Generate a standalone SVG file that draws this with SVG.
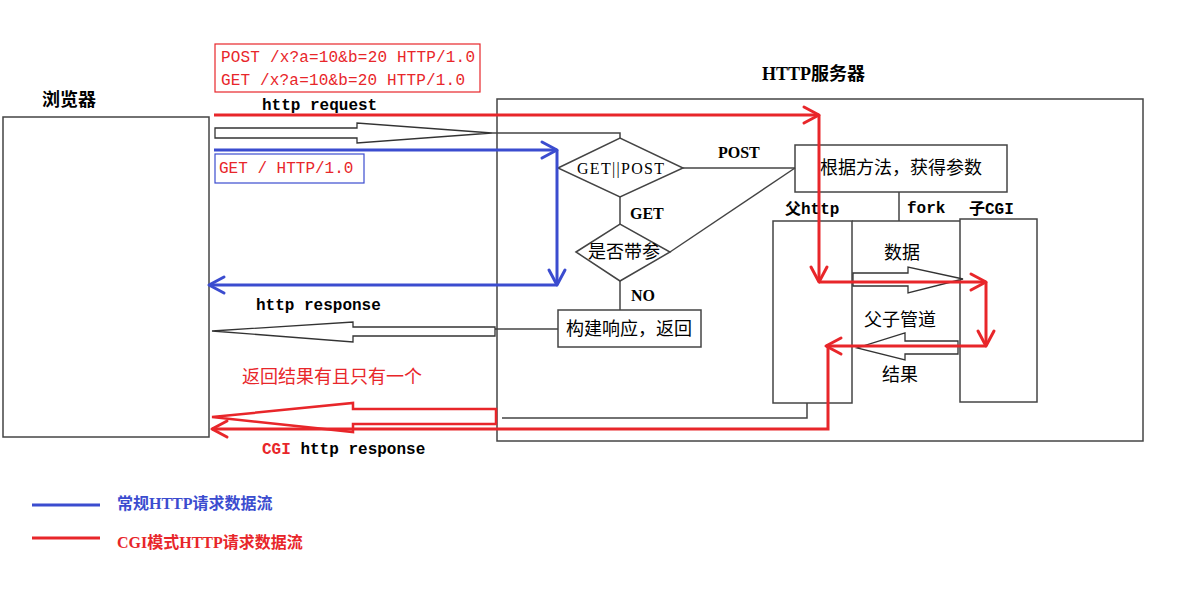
<svg xmlns="http://www.w3.org/2000/svg" width="1183" height="594" viewBox="0 0 1183 594">
<style>
.box{fill:#fff;stroke:#444;stroke-width:1.5}
.ln{fill:none;stroke:#444;stroke-width:1.5}
.hol{fill:#fff;stroke:#333;stroke-width:1.3}
.holr{fill:#fff;stroke:#e8262a;stroke-width:2.5}
.red{fill:none;stroke:#e8262a;stroke-width:3}
.blue{fill:none;stroke:#3b4ccf;stroke-width:3}
.mono{font-family:"Liberation Mono","Noto Sans CJK SC",monospace;font-size:16px}
.b{font-weight:bold}
.cjk{font-family:"Liberation Serif","Noto Sans CJK SC",serif;font-size:18px}
.leg{font-family:"Liberation Serif","Noto Sans CJK SC",serif;font-size:16px;font-weight:bold}
.ser{font-family:"Liberation Serif","Noto Sans CJK SC",serif;font-size:16px}
</style>
<defs>
<marker id="ar" markerUnits="userSpaceOnUse" markerWidth="22" markerHeight="22" viewBox="0 0 22 22" refX="18" refY="11" orient="auto" overflow="visible">
<path d="M3,3 L18,11 L3,19" fill="none" stroke="#e8262a" stroke-width="3" stroke-linejoin="round" stroke-linecap="round"/>
</marker>
<marker id="ab" markerUnits="userSpaceOnUse" markerWidth="22" markerHeight="22" viewBox="0 0 22 22" refX="18" refY="11" orient="auto" overflow="visible">
<path d="M3,3 L18,11 L3,19" fill="none" stroke="#3b4ccf" stroke-width="3" stroke-linejoin="round" stroke-linecap="round"/>
</marker>
</defs>
<rect width="1183" height="594" fill="#fff"/>

<g id="browser">
<rect class="box" x="3" y="117" width="206" height="320" stroke-width="2"/>
<text class="cjk b" x="42" y="106">浏览器</text>
</g>

<g id="server">
<rect class="box" x="497" y="99" width="646" height="342"/>
<text class="cjk b" x="762" y="80" font-size="17">HTTP服务器</text>
</g>

<g id="request-label">
<rect x="215" y="44" width="265" height="48" fill="none" stroke="#e8262a" stroke-width="1.2"/>
<text class="mono" fill="#e8262a" x="221" y="62" textLength="254">POST /x?a=10&amp;b=20 HTTP/1.0</text>
<text class="mono" fill="#e8262a" x="221" y="85" textLength="244">GET /x?a=10&amp;b=20 HTTP/1.0</text>
<text class="mono b" x="262" y="110">http request</text>
</g>

<g id="get-label">
<rect x="215" y="154" width="149" height="29" fill="none" stroke="#3b4ccf" stroke-width="1.2"/>
<text class="mono" fill="#e8262a" x="219" y="173">GET / HTTP/1.0</text>
</g>

<g id="decision-method">
<polygon class="box" points="558,168 620,138 683,168 620,197"/>
<text class="ser" x="577" y="174" font-size="17" textLength="87">GET||POST</text>
</g>

<g id="decision-param">
<polygon class="box" points="576,252 620,224 670,252 620,281"/>
<text class="cjk" x="624" y="258" text-anchor="middle">是否带参</text>
</g>

<g id="get-params">
<rect class="box" x="795" y="145" width="212" height="47"/>
<text class="cjk" x="901" y="174" text-anchor="middle">根据方法，获得参数</text>
</g>

<g id="build-response">
<rect class="box" x="558" y="310" width="143" height="37"/>
<text class="cjk" x="629" y="335" text-anchor="middle">构建响应，返回</text>
</g>

<g id="parent-http">
<rect class="box" x="773" y="221" width="79" height="182"/>
<text class="mono b" x="785" y="214">父http</text>
</g>

<g id="child-cgi">
<rect class="box" x="960" y="219" width="77" height="183"/>
<text class="mono b" x="969" y="214">子CGI</text>
</g>

<g id="connectors">
<polygon class="hol" points="215,128 357,128 357,123 492,133 357,143 357,138 215,138"/>
<path class="ln" d="M492,133 H620 V138"/>
<path class="ln" d="M683,168 H795"/>
<path class="ln" d="M620,197 V224"/>
<path class="ln" d="M670,252 L795,168"/>
<path class="ln" d="M620,281 V310"/>
<path class="ln" d="M558,329 H495"/>
<polygon class="hol" points="495,327 353,327 353,322 212,331 353,342 353,336 495,336"/>
<path class="ln" d="M899,192 V221 M852,221 H960"/>
<path class="ln" d="M807,403 V418 H502"/>
<polygon class="hol" points="853,273 908,273 908,267 963,279 908,293 908,286 853,286"/>
<polygon class="hol" points="958,341 905,341 905,333 857,348 905,360 905,354 958,354"/>
<polygon class="holr" points="496,409 353,409 353,403 212,417 353,432 353,424 496,424"/>

<path class="blue" d="M214,150 H557" marker-end="url(#ab)"/>
<path class="blue" d="M557,150 V285" marker-end="url(#ab)"/>
<path class="blue" d="M557,285 H209" marker-end="url(#ab)"/>

<path class="red" d="M214,115 H819" marker-end="url(#ar)"/>
<path class="red" d="M819,115 V282" marker-end="url(#ar)"/>
<path class="red" d="M819,282 H986" marker-end="url(#ar)"/>
<path class="red" d="M986,282 V346" marker-end="url(#ar)"/>
<path class="red" d="M986,346 H826" marker-end="url(#ar)"/>
<path class="red" d="M828,346 V429 H212" marker-end="url(#ar)"/>

<text class="ser b" x="718" y="158">POST</text>
<text class="ser b" x="630" y="219">GET</text>
<text class="ser b" x="631" y="301">NO</text>
<text class="mono b" x="907" y="213">fork</text>
<text class="cjk" x="884" y="259">数据</text>
<text class="cjk" x="864" y="326">父子管道</text>
<text class="cjk" x="882" y="381">结果</text>
<text class="mono b" x="256" y="310">http response</text>
<text class="cjk" fill="#e8262a" x="242" y="383">返回结果有且只有一个</text>
<text class="mono b" x="262" y="454"><tspan fill="#e8262a">CGI</tspan> http response</text>
</g>

<g id="legend">
<path class="blue" d="M32,505 H100"/>
<text class="leg" fill="#3b4ccf" x="117" y="509">常规HTTP请求数据流</text>
<path class="red" d="M32,538 H100"/>
<text class="leg" fill="#e8262a" x="117" y="548">CGI模式HTTP请求数据流</text>
</g>
</svg>
